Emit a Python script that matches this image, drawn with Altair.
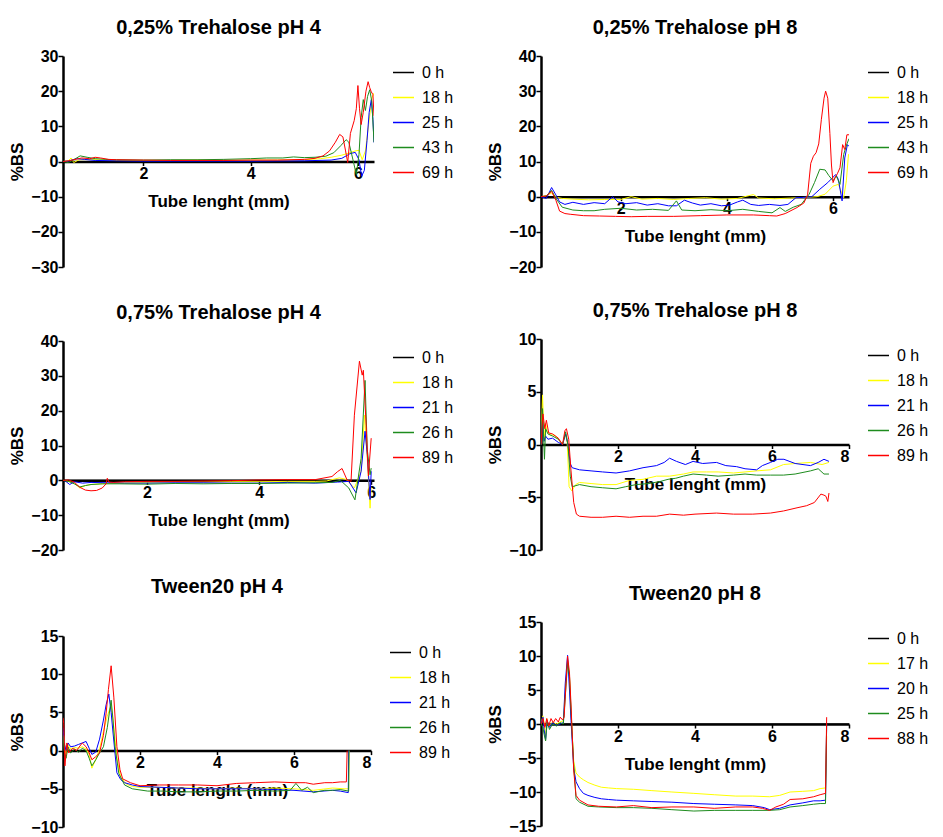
import altair as alt
import pandas as pd

FONT = "Liberation Sans"

# ---------------- Panel 1: 0,25% Trehalose pH 4 ----------------
P1_LABELS = ["0 h", "18 h", "25 h", "43 h", "69 h"]
P1_X_0 = [0.5, 6.3]
P1_Y_0 = [0, 0]
P1_X_1 = [0.5, 0.6, 0.65, 0.7, 0.8, 1.0, 1.3, 1.6, 2.0, 2.5, 3.0, 3.5, 4.0, 4.5, 5.0, 5.3, 5.5, 5.7, 5.85, 5.95, 6.02, 6.08, 6.14, 6.2, 6.26, 6.3]
P1_Y_1 = [0, 0.2, 1.0, -0.3, 0.5, 0.6, 0.4, 0.3, 0.3, 0.3, 0.4, 0.3, 0.4, 0.4, 0.5, 0.8, 1.2, 1.8, 2.5, 3.0, 3.2, 0.5, 3.0, 10.5, 18, 19.5]
P1_X_2 = [0.5, 0.6, 0.75, 0.9, 1.1, 1.5, 2.0, 3.0, 4.0, 5.0, 5.5, 5.7, 5.85, 5.95, 6.02, 6.07, 6.12, 6.17, 6.21, 6.25, 6.28, 6.3]
P1_Y_2 = [0, 0.1, 0.8, 0.6, 0.3, 0.2, 0.1, 0.1, 0.1, 0.2, 0.4, 0.9, 2.2, 2.6, 0.5, -4.2, -2.5, 6, 14, 17.6, 12, 5.4]
P1_X_3 = [0.5, 0.6, 0.7, 0.82, 0.95, 1.1, 1.3, 1.5, 2.0, 2.5, 3.0, 3.5, 4.0, 4.3, 4.6, 4.8, 5.0, 5.2, 5.4, 5.55, 5.68, 5.78, 5.83, 5.9, 5.97, 6.02, 6.06, 6.1, 6.14, 6.18, 6.22, 6.26, 6.3]
P1_Y_3 = [0, -0.3, 0.5, 1.6, 1.2, 0.8, 0.6, 0.5, 0.4, 0.5, 0.5, 0.6, 0.8, 1.0, 1.0, 1.3, 1.1, 1.2, 1.5, 2.5, 4.5, 6.2, 5.5, 1.0, -3.7, 2.0, 12.5, 17.6, 14.5, 18.5, 20.4, 17, 5.5]
P1_X_4 = [0.5, 0.6, 0.7, 0.85, 1.0, 1.1, 1.2, 1.35, 1.5, 2.0, 2.5, 3.0, 3.5, 4.0, 4.5, 5.0, 5.2, 5.35, 5.47, 5.58, 5.66, 5.72, 5.77, 5.81, 5.86, 5.93, 5.97, 6.0, 6.03, 6.06, 6.1, 6.15, 6.19, 6.22, 6.25, 6.28, 6.3]
P1_Y_4 = [0, 0.2, 0.5, 1.0, 0.8, 1.2, 1.0, 0.6, 0.5, 0.4, 0.3, 0.3, 0.3, 0.4, 0.4, 0.6, 0.9, 1.6, 3.0, 5.5, 7.7, 7.0, 3.0, -0.3, 8.0, 11.6, 15, 21.6, 15, 10.5, 14, 20, 22.7, 21, 19.8, 19, 13]

# ---------------- Panel 2: 0,25% Trehalose pH 8 ----------------
P2_LABELS = ["0 h", "18 h", "25 h", "43 h", "69 h"]
P2_X_0 = [0.5, 6.3]
P2_Y_0 = [0, 0]
P2_X_1 = [0.5, 0.6, 0.7, 0.8, 0.9, 1.1, 1.4, 1.7, 2.0, 2.2, 2.4, 2.7, 3.0, 3.3, 3.6, 3.9, 4.2, 4.5, 4.6, 4.9, 5.2, 5.5, 5.7, 5.85, 6.0, 6.1, 6.2, 6.25, 6.29, 6.3]
P2_Y_1 = [0, 0.3, 1.0, -0.2, -0.5, -0.7, -0.9, -0.8, -0.8, 0.0, -0.7, -0.5, -0.8, -0.5, -0.3, -0.7, -0.5, 0.6, -0.4, -0.6, -0.4, -0.2, 0, 0.7, 3.0, 3.5, -0.3, 4.5, 12, 12]
P2_X_2 = [0.5, 0.6, 0.7, 0.78, 0.85, 0.95, 1.1, 1.3, 1.5, 1.7, 1.85, 1.95, 2.1, 2.3, 2.5, 2.7, 2.9, 3.05, 3.2, 3.35, 3.5, 3.7, 3.9, 4.05, 4.2, 4.3, 4.45, 4.6, 4.8, 5.0, 5.15, 5.3, 5.45, 5.6, 5.75, 5.9, 6.05, 6.1, 6.17, 6.22, 6.27, 6.3]
P2_Y_2 = [0, -0.5, 2.6, 0.5, -1.5, -2.2, -1.6, -2.2, -1.7, -2.0, 0.0, -1.5, -2.0, -1.7, -2.4, -2.0, -2.6, -2.6, -1.0, -1.8, -2.4, -2.0, -2.6, -2.4, -1.5, -1.0, -2.2, -2.5, -2.2, -2.5, -2.2, -0.3, -0.2, 0.0, 2.1, 4.0, 6.3, 4.9, -1.2, 11, 14.8, 14.3]
P2_X_3 = [0.5, 0.6, 0.7, 0.78, 0.9, 1.1, 1.3, 1.5, 1.7, 2.0, 2.3, 2.6, 2.9, 3.05, 3.15, 3.4, 3.7, 4.0, 4.3, 4.6, 4.85, 5.0, 5.1, 5.25, 5.4, 5.55, 5.65, 5.75, 5.85, 5.92, 6.0, 6.06, 6.13, 6.2, 6.26, 6.3]
P2_Y_3 = [0, 0.2, 1.8, -0.5, -3.0, -3.8, -4.0, -4.0, -3.6, -3.3, -3.8, -3.6, -3.9, -1.2, -3.8, -4.0, -3.7, -4.0, -3.6, -4.2, -4.6, -3.1, -4.2, -3.0, -2.2, 0.7, 4.0, 7.8, 7.6, 6.0, 4.5, 5.9, 3.5, 12, 15, 16.5]
P2_X_4 = [0.5, 0.6, 0.7, 0.78, 0.85, 0.95, 1.05, 1.3, 1.6, 1.9, 2.2, 2.5, 3.0, 3.5, 4.0, 4.5, 4.8, 4.94, 5.1, 5.32, 5.45, 5.52, 5.58, 5.63, 5.68, 5.73, 5.78, 5.83, 5.86, 5.9, 5.94, 5.97, 6.0, 6.04, 6.08, 6.13, 6.18, 6.22, 6.26, 6.3]
P2_Y_4 = [0, 0.2, 1.5, -1.0, -4.1, -4.8, -5.0, -5.4, -5.5, -5.6, -5.7, -5.6, -5.6, -5.4, -5.2, -5.2, -5.4, -5.5, -4.8, -3.1, -1.8, 0.5, 9.5, 11.5, 12.5, 15, 22, 28, 30, 28, 18, 9, 4.0, 5.5, 6.5, 8.2, 14.8, 13.4, 17.6, 17.6]

# ---------------- Panel 3: 0,75% Trehalose pH 4 ----------------
P3_LABELS = ["0 h", "18 h", "21 h", "26 h", "89 h"]
P3_X_0 = [0.5, 6.0]
P3_Y_0 = [0, 0]
P3_X_1 = [0.5, 0.6, 0.7, 0.8, 0.9, 1.0, 1.2, 1.5, 2.0, 2.5, 3.0, 3.5, 4.0, 4.5, 5.0, 5.2, 5.43, 5.55, 5.7, 5.82, 5.88, 5.93, 5.98, 6.0]
P3_Y_1 = [0, -0.3, -0.8, -2.2, -1.5, -1.2, -1.0, -0.8, -0.6, -0.5, -0.5, -0.4, -0.4, -0.3, -0.3, -0.2, 0.7, 0.3, -2.2, 2.6, 18.7, 6.3, -8.0, -2]
P3_X_2 = [0.5, 0.55, 0.62, 0.7, 0.85, 1.0, 1.3, 1.6, 2.0, 2.5, 3.0, 3.5, 4.0, 4.5, 5.0, 5.4, 5.6, 5.73, 5.82, 5.89, 5.93, 5.98, 6.0]
P3_Y_2 = [0, -0.3, -1.2, -0.4, -0.8, -0.6, -0.7, -0.8, -0.8, -0.7, -0.7, -0.8, -0.8, -0.6, -0.8, -0.5, -0.3, -3.6, 2.6, 14.1, 7.4, -5.5, 2.6]
P3_X_3 = [0.5, 0.6, 0.7, 0.8, 0.9, 1.0, 1.2, 1.5, 2.0, 2.5, 3.0, 3.5, 4.0, 4.5, 5.0, 5.3, 5.45, 5.6, 5.71, 5.82, 5.89, 5.93, 5.98, 6.0]
P3_Y_3 = [0, -0.3, -1.0, -1.9, -1.5, -1.2, -1.0, -1.0, -1.1, -0.9, -1.0, -0.9, -0.9, -0.8, -0.7, -0.6, 0.0, -2.2, -5.6, 6.3, 28.7, 8.9, 1.6, 3.5]
P3_X_4 = [0.5, 0.6, 0.7, 0.8, 0.9, 1.0, 1.1, 1.2, 1.27, 1.29, 1.32, 1.4, 1.6, 2.0, 2.5, 3.0, 3.5, 4.0, 4.5, 5.0, 5.3, 5.4, 5.48, 5.57, 5.64, 5.7, 5.79, 5.84, 5.86, 5.91, 5.95, 6.0]
P3_Y_4 = [0, 0.1, -0.5, -2.0, -2.8, -3.0, -2.9, -2.2, -1.0, 0.6, -0.5, -0.6, -0.4, -0.3, -0.3, -0.2, -0.1, 0.1, 0.2, 0.2, 1.1, 2.5, 3.4, 0.1, -0.3, 18.7, 34.2, 30.2, 31.6, 15.8, 1.3, 12.1]

# ---------------- Panel 4: 0,75% Trehalose pH 8 ----------------
P4_LABELS = ["0 h", "18 h", "21 h", "26 h", "89 h"]
P4_X_0 = [0.0, 8.0]
P4_Y_0 = [0, 0]
P4_X_1 = [0.0, 0.04, 0.08, 0.12, 0.16, 0.25, 0.35, 0.45, 0.56, 0.63, 0.68, 0.73, 0.8, 0.9, 1.0, 1.3, 1.6, 1.95, 2.3, 2.65, 3.0, 3.34, 3.7, 3.95, 4.3, 4.6, 5.0, 5.3, 5.6, 5.96, 6.3, 6.6, 7.0, 7.3, 7.48]
P4_Y_1 = [0, 4.7, 0.5, 2.0, 1.2, 0.9, 0.9, 0.5, 0.0, 1.0, 0.2, -4.0, -4.4, -3.8, -3.6, -3.7, -3.8, -3.8, -3.4, -3.3, -3.0, -3.0, -2.8, -2.6, -2.6, -2.6, -2.7, -2.6, -2.5, -2.4, -1.9, -1.8, -1.7, -1.9, -1.7]
P4_X_2 = [0.0, 0.04, 0.08, 0.12, 0.18, 0.3, 0.45, 0.56, 0.64, 0.7, 0.76, 0.81, 1.0, 1.3, 1.6, 1.95, 2.3, 2.65, 3.0, 3.2, 3.34, 3.52, 3.75, 3.95, 4.2, 4.56, 4.8, 5.08, 5.3, 5.6, 5.75, 5.96, 6.15, 6.31, 6.6, 7.0, 7.2, 7.35, 7.48]
P4_Y_2 = [0, 2.3, 0.3, 0.8, 0.5, 0.6, 0.2, 0.0, 1.0, 0.0, -1.8, -2.2, -2.4, -2.5, -2.6, -2.7, -2.5, -2.2, -2.0, -1.7, -1.3, -1.6, -1.9, -1.6, -1.8, -1.7, -2.0, -2.1, -2.3, -2.4, -2.0, -1.7, -1.4, -1.4, -1.8, -2.0, -1.7, -1.4, -1.6]
P4_X_3 = [0.0, 0.04, 0.09, 0.12, 0.18, 0.3, 0.45, 0.56, 0.64, 0.7, 0.76, 0.81, 1.0, 1.3, 1.6, 1.95, 2.2, 2.47, 2.8, 3.1, 3.3, 3.5, 3.7, 3.95, 4.3, 4.6, 5.0, 5.3, 5.6, 5.96, 6.3, 6.6, 7.0, 7.2, 7.35, 7.48]
P4_Y_3 = [0, 3.4, -1.4, 1.5, 1.0, 0.8, 0.5, 0.0, 1.2, 0.0, -3.0, -4.0, -3.8, -4.0, -4.1, -4.2, -4.0, -3.8, -3.7, -3.5, -3.3, -3.2, -3.0, -2.8, -2.9, -3.0, -2.9, -2.8, -2.9, -2.9, -2.9, -2.8, -2.5, -2.3, -2.8, -2.8]
P4_X_4 = [0.0, 0.05, 0.1, 0.14, 0.2, 0.3, 0.45, 0.56, 0.62, 0.66, 0.72, 0.78, 0.85, 0.92, 1.0, 1.3, 1.6, 1.95, 2.3, 2.65, 3.0, 3.34, 3.7, 4.0, 4.56, 5.0, 5.5, 5.96, 6.3, 6.65, 6.9, 7.1, 7.27, 7.35, 7.4, 7.45, 7.48]
P4_Y_4 = [0, 2.9, 1.5, 2.3, 1.1, 1.0, 0.6, 0.0, 1.3, 1.5, 0.5, -2.5, -5.5, -6.6, -6.8, -6.9, -6.9, -6.8, -6.9, -6.8, -6.8, -6.6, -6.7, -6.6, -6.5, -6.6, -6.6, -6.5, -6.3, -6.0, -5.8, -5.5, -4.7, -4.8, -4.9, -5.4, -4.6]

# ---------------- Panel 5: Tween20 pH 4 ----------------
P5_LABELS = ["0 h", "18 h", "21 h", "26 h", "89 h"]
P5_X_0 = [0.0, 8.0]
P5_Y_0 = [0, 0]
P5_X_1 = [0.0, 0.03, 0.08, 0.13, 0.2, 0.3, 0.4, 0.5, 0.6, 0.68, 0.75, 0.85, 0.95, 1.05, 1.15, 1.25, 1.32, 1.4, 1.5, 1.65, 1.8, 2.0, 2.5, 3.0, 3.5, 4.0, 4.5, 5.0, 5.5, 6.0, 6.5, 7.0, 7.3, 7.42, 7.43]
P5_Y_1 = [2.5, 1.5, -0.5, 0.8, 0.2, 0.4, 0.3, 0.5, 0.2, -0.5, -2.3, -1.2, 0.2, 2.5, 4.5, 6.0, 3.0, -1.0, -3.5, -4.4, -4.7, -4.8, -4.8, -4.9, -4.9, -5.0, -4.9, -5.0, -4.9, -5.0, -5.2, -4.9, -5.0, -5.0, 0]
P5_X_2 = [0.0, 0.03, 0.08, 0.13, 0.2, 0.3, 0.4, 0.5, 0.6, 0.68, 0.75, 0.85, 0.95, 1.05, 1.12, 1.19, 1.25, 1.3, 1.4, 1.5, 1.6, 1.8, 2.0, 2.5, 3.0, 3.5, 4.0, 4.5, 5.0, 5.5, 6.0, 6.5, 7.0, 7.2, 7.41, 7.42]
P5_Y_2 = [3.0, 1.0, 0.0, 1.0, 0.5, 0.6, 0.8, 1.0, 1.2, 0.3, -0.5, -0.2, 1.5, 4.0, 6.0, 7.4, 5.0, 2.3, -2.9, -3.8, -4.2, -4.5, -4.7, -4.8, -4.9, -5.0, -5.0, -5.0, -5.0, -5.1, -5.2, -5.4, -5.2, -5.3, -5.5, 0]
P5_X_3 = [0.0, 0.03, 0.08, 0.13, 0.2, 0.3, 0.4, 0.5, 0.6, 0.68, 0.75, 0.85, 0.95, 1.05, 1.15, 1.25, 1.3, 1.35, 1.45, 1.6, 1.8, 2.2, 2.6, 3.0, 3.5, 4.0, 4.5, 5.0, 5.5, 5.9, 6.05, 6.2, 6.35, 6.5, 6.8, 7.0, 7.2, 7.42, 7.43]
P5_Y_3 = [2.0, 0.0, -1.0, 0.5, -0.3, 0.2, -0.2, 0.3, 0.0, -1.0, -2.0, -1.2, -0.3, 0.5, 3.0, 6.6, 4.0, 0.5, -3.0, -4.5, -5.0, -5.3, -5.3, -5.4, -5.4, -5.3, -5.3, -5.2, -5.3, -5.2, -4.3, -5.2, -4.8, -5.5, -5.2, -5.2, -5.1, -5.3, 0]
P5_X_4 = [0.0, 0.02, 0.05, 0.1, 0.15, 0.25, 0.35, 0.5, 0.6, 0.68, 0.75, 0.85, 0.95, 1.05, 1.12, 1.18, 1.25, 1.32, 1.4, 1.48, 1.55, 1.75, 2.0, 2.5, 3.0, 3.5, 4.0, 4.5, 5.0, 5.5, 6.0, 6.3, 6.5, 6.8, 7.0, 7.2, 7.36, 7.38]
P5_Y_4 = [4.3, 3.5, -2.0, 1.0, -0.3, 0.3, 0.0, 1.0, 0.5, -0.3, -1.2, -0.8, -0.3, 2.0, 4.9, 8.0, 11.1, 7.0, 0.5, -2.5, -3.7, -4.2, -4.6, -4.5, -4.5, -4.5, -4.6, -4.3, -4.2, -4.1, -4.2, -4.2, -4.4, -4.2, -4.2, -4.1, -4.1, 0]

# ---------------- Panel 6: Tween20 pH 8 ----------------
P6_LABELS = ["0 h", "17 h", "20 h", "25 h", "88 h"]
P6_X_0 = [0.0, 8.0]
P6_Y_0 = [0, 0]
P6_X_1 = [0.0, 0.05, 0.1, 0.12, 0.15, 0.2, 0.3, 0.4, 0.5, 0.58, 0.63, 0.69, 0.74, 0.78, 0.85, 0.91, 1.0, 1.1, 1.22, 1.4, 1.57, 1.75, 1.96, 2.4, 2.88, 3.4, 3.97, 4.5, 5.06, 5.5, 5.94, 6.2, 6.47, 6.8, 7.08, 7.25, 7.39, 7.42]
P6_Y_1 = [0, 1.2, -0.5, -2.0, 0.8, -0.3, 0.3, 0.0, 0.3, 0.5, 5.0, 9.5, 7.0, 1.5, -5.5, -7.2, -7.8, -8.2, -8.6, -9.0, -9.3, -9.4, -9.5, -9.6, -9.8, -10.0, -10.2, -10.4, -10.6, -10.6, -10.7, -10.5, -10.0, -9.9, -9.8, -9.5, -9.4, -1.8]
P6_X_2 = [0.0, 0.05, 0.08, 0.12, 0.16, 0.22, 0.3, 0.4, 0.5, 0.58, 0.63, 0.69, 0.74, 0.78, 0.85, 0.91, 1.0, 1.1, 1.22, 1.4, 1.57, 1.75, 1.96, 2.4, 2.88, 3.4, 3.97, 4.5, 5.06, 5.5, 5.8, 5.94, 6.2, 6.47, 6.8, 7.08, 7.25, 7.39, 7.42]
P6_Y_2 = [0, 1.0, -0.8, -2.3, 0.5, -0.5, 0.2, -0.2, 0.0, 0.2, 6.0, 10.1, 5.0, 0.5, -6.5, -8.5, -9.5, -10.2, -10.5, -10.8, -11.0, -11.1, -11.2, -11.3, -11.4, -11.5, -11.7, -11.8, -11.9, -12.0, -12.3, -12.6, -12.4, -11.9, -11.6, -11.3, -11.3, -11.2, 0]
P6_X_3 = [0.0, 0.05, 0.08, 0.12, 0.16, 0.22, 0.3, 0.4, 0.5, 0.58, 0.63, 0.69, 0.74, 0.78, 0.85, 0.91, 1.0, 1.22, 1.5, 1.96, 2.4, 2.88, 3.4, 3.97, 4.5, 5.06, 5.5, 5.94, 6.2, 6.47, 6.8, 7.08, 7.25, 7.39, 7.42]
P6_Y_3 = [0, -0.5, -1.5, -2.5, 0.3, -0.8, 0.0, -0.3, 0.2, 0.0, 4.0, 9.0, 7.0, 2.0, -6.0, -11.0, -11.5, -12.1, -12.2, -12.3, -12.3, -12.4, -12.6, -12.8, -12.7, -12.7, -12.7, -12.7, -12.6, -12.2, -12.0, -11.8, -11.7, -11.7, 0]
P6_X_4 = [0.0, 0.05, 0.1, 0.15, 0.2, 0.26, 0.32, 0.38, 0.45, 0.5, 0.56, 0.6, 0.65, 0.69, 0.74, 0.78, 0.85, 0.91, 1.0, 1.22, 1.5, 1.96, 2.4, 2.88, 3.4, 3.97, 4.5, 5.06, 5.5, 5.75, 5.94, 6.1, 6.3, 6.47, 6.8, 7.08, 7.25, 7.39, 7.42]
P6_Y_4 = [0, 0.8, -0.5, 0.8, -0.3, 0.8, 0.2, 0.8, 0.3, 1.0, 0.6, 1.0, 6.0, 10.0, 7.5, 2.8, -6.9, -10.5, -11.2, -11.9, -12.1, -12.2, -12.0, -12.3, -12.2, -12.2, -12.4, -12.2, -12.2, -12.4, -12.7, -12.2, -11.8, -11.1, -11.0, -10.7, -10.4, -10.2, 1.0]

SERIES_COLORS = ["#000000", "#FFFF00", "#0000FF", "#1E8C1E", "#FF0000"]


def frame(labels, xs, ys):
    rows = []
    for k, (lab, xl, yl) in enumerate(zip(labels, xs, ys)):
        for xv, yv in zip(xl, yl):
            rows.append({"x": xv, "y": yv, "s": lab, "k": k})
    return pd.DataFrame(rows)


def panel(title, df, labels, xdom, xvals, ydom, yvals, w, h, toff):
    xoff = -h * (0 - ydom[0]) / (ydom[1] - ydom[0])
    return alt.Chart(df).mark_line(strokeWidth=1, clip=True).encode(
        x=alt.X("x:Q", scale=alt.Scale(domain=xdom, nice=False, zero=False),
                axis=alt.Axis(values=xvals, offset=xoff, title="Tube lenght (mm)",
                              domainWidth=2.5, domainColor="black", tickColor="black",
                              tickWidth=1.5, tickSize=4, labelPadding=0, titlePadding=12,
                              grid=False, format="d")),
        y=alt.Y("y:Q", scale=alt.Scale(domain=ydom, nice=False, zero=False),
                axis=alt.Axis(values=yvals, title="%BS", domainWidth=2.5, domainColor="black",
                              tickColor="black", tickWidth=1.5, tickSize=5, labelPadding=0,
                              titlePadding=4, grid=False, format="d")),
        color=alt.Color("s:N", scale=alt.Scale(domain=labels, range=SERIES_COLORS),
                        legend=alt.Legend(title=None, orient="none", legendX=w + 18, legendY=5,
                                          padding=0, symbolType="stroke", symbolSize=441,
                                          symbolStrokeWidth=1.5, labelFontSize=16,
                                          labelFont=FONT, labelOffset=7, rowPadding=5,
                                          labelColor="black")),
        detail="k:O",
    ).properties(
        width=w, height=h,
        title=alt.TitleParams(title, fontSize=20, font=FONT, fontWeight="bold", offset=toff, color="black"),
    )


p1 = panel("0,25% Trehalose pH 4",
           frame(P1_LABELS, [P1_X_0, P1_X_1, P1_X_2, P1_X_3, P1_X_4], [P1_Y_0, P1_Y_1, P1_Y_2, P1_Y_3, P1_Y_4]),
           P1_LABELS, [0.5, 6.3], [2, 4, 6], [-30, 30], [-30, -20, -10, 0, 10, 20, 30], 311, 211, 10)
p2 = panel("0,25% Trehalose pH 8",
           frame(P2_LABELS, [P2_X_0, P2_X_1, P2_X_2, P2_X_3, P2_X_4], [P2_Y_0, P2_Y_1, P2_Y_2, P2_Y_3, P2_Y_4]),
           P2_LABELS, [0.5, 6.3], [2, 4, 6], [-20, 40], [-20, -10, 0, 10, 20, 30, 40], 308, 211, 10)
p3 = panel("0,75% Trehalose pH 4",
           frame(P3_LABELS, [P3_X_0, P3_X_1, P3_X_2, P3_X_3, P3_X_4], [P3_Y_0, P3_Y_1, P3_Y_2, P3_Y_3, P3_Y_4]),
           P3_LABELS, [0.5, 6.05], [2, 4, 6], [-20, 40], [-20, -10, 0, 10, 20, 30, 40], 311, 209, 10)
p4 = panel("0,75% Trehalose pH 8",
           frame(P4_LABELS, [P4_X_0, P4_X_1, P4_X_2, P4_X_3, P4_X_4], [P4_Y_0, P4_Y_1, P4_Y_2, P4_Y_3, P4_Y_4]),
           P4_LABELS, [0, 8], [2, 4, 6, 8], [-10, 10], [-10, -5, 0, 5, 10], 308, 211, 10)
p5 = panel("Tween20 pH 4",
           frame(P5_LABELS, [P5_X_0, P5_X_1, P5_X_2, P5_X_3, P5_X_4], [P5_Y_0, P5_Y_1, P5_Y_2, P5_Y_3, P5_Y_4]),
           P5_LABELS, [0, 8], [2, 4, 6, 8], [-10, 15], [-10, -5, 0, 5, 10, 15], 308, 191, 31)
p6 = panel("Tween20 pH 8",
           frame(P6_LABELS, [P6_X_0, P6_X_1, P6_X_2, P6_X_3, P6_X_4], [P6_Y_0, P6_Y_1, P6_Y_2, P6_Y_3, P6_Y_4]),
           P6_LABELS, [0, 8], [2, 4, 6, 8], [-15, 15], [-15, -10, -5, 0, 5, 10, 15], 308, 204, 10)

left = alt.vconcat(
    p1,
    alt.vconcat(p3, p5, spacing=86, bounds="flush").resolve_scale(color="independent"),
    spacing=74, bounds="flush",
).resolve_scale(color="independent")
right = alt.vconcat(p2, p4, p6, spacing=72, bounds="flush").resolve_scale(color="independent")

chart = alt.hconcat(left, right, spacing=32).resolve_scale(
    color="independent"
).properties(
    padding={"left": 0, "top": 10, "right": 0, "bottom": 0}
).configure_view(stroke=None).configure_axis(
    labelFont=FONT, labelFontSize=16, labelFontWeight="bold", labelColor="black",
    titleFont=FONT, titleFontSize=17, titleFontWeight="bold", titleColor="black",
).configure_title(anchor="middle")

chart.save("out.html", embed_options={"renderer": "svg", "actions": False})
